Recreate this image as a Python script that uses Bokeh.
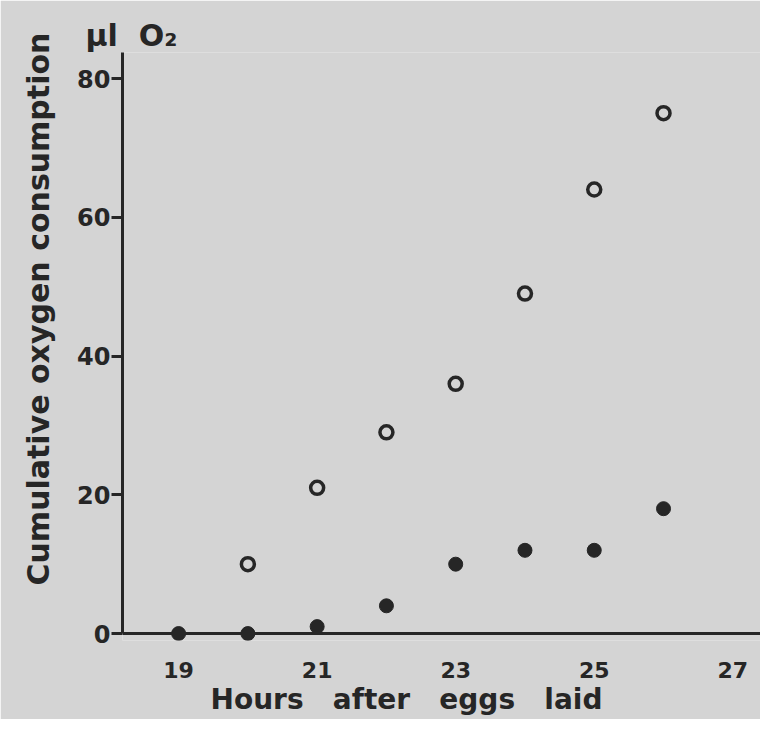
from bokeh.plotting import figure
from bokeh.models import Range1d, FixedTicker, ColumnDataSource, Title, Span
from bokeh.embed import file_html
from bokeh.resources import INLINE

# Data
hours_open = [20, 21, 22, 23, 24, 25, 26]
o2_open = [10, 21, 29, 36, 49, 64, 75]
hours_filled = [19, 20, 21, 22, 23, 24, 25, 26]
o2_filled = [0, 0, 1, 4, 10, 12, 12, 18]
x_ticks = [19, 21, 23, 25, 27]
y_ticks = [0, 20, 40, 60, 80]

INK = "#262626"
PAPER = "#d4d4d4"
FONT = "DejaVu Sans"
NB = "\u00a0"

p = figure(width=760, height=719, output_backend="svg", toolbar_location=None,
           x_range=Range1d(18.19, 27.40), y_range=Range1d(-1.0, 83.75),
           min_border_left=122, min_border_right=0, min_border_top=52,
           min_border_bottom=79)
p.background_fill_color = PAPER
p.border_fill_color = PAPER
p.outline_line_color = None
p.xgrid.visible = False
p.ygrid.visible = False

p.title.text = "\u03bcl" + NB + NB + "O\u2082"
p.title.align = "left"
p.title.offset = -37
p.title.standoff = 0
p.title.text_font = FONT
p.title.text_font_size = "30px"
p.title.text_font_style = "bold"
p.title.text_color = INK

# x axis line drawn at y = 0
p.add_layout(Span(location=0, dimension="width", line_color=INK, line_width=3))

src_o = ColumnDataSource(dict(x=hours_open, y=o2_open))
src_f = ColumnDataSource(dict(x=hours_filled, y=o2_filled))
p.scatter("x", "y", source=src_o, size=13, fill_color=None,
          line_color=INK, line_width=3.5)
p.scatter("x", "y", source=src_f, size=14, fill_color=INK,
          line_color=INK, line_width=1)

xa = p.xaxis[0]
xa.ticker = FixedTicker(ticks=x_ticks)
xa.axis_line_color = None
xa.major_tick_line_color = None
xa.minor_tick_line_color = None
xa.major_tick_out = 0
xa.major_tick_in = 0
xa.minor_tick_out = 0
xa.minor_tick_in = 0
xa.major_label_standoff = 21
xa.major_label_text_font_size = "22px"

ya = p.yaxis[0]
ya.bounds = (0, 83.75)
ya.ticker = FixedTicker(ticks=y_ticks)
ya.axis_line_color = INK
ya.axis_line_width = 3
ya.major_tick_line_color = INK
ya.major_tick_line_width = 3
ya.major_tick_out = 11
ya.major_tick_in = 0
ya.minor_tick_out = 0
ya.minor_tick_in = 0
ya.major_label_standoff = 1
ya.major_label_text_font_size = "24px"

for ax in (xa, ya):
    ax.major_label_text_font = FONT
    ax.major_label_text_font_style = "bold"
    ax.major_label_text_color = INK

gap = NB * 3
xlab = Title(text=("Hours" + gap + "after" + gap + "eggs" + gap + "laid"),
             align="left", offset=88, standoff=0, text_font=FONT,
             text_font_size="28px", text_font_style="bold", text_color=INK)
p.add_layout(xlab, "below")

ylab = Title(text=("Cumulative" + NB + "oxygen" + NB + "consumption"),
             align="left", offset=55, standoff=37, text_font=FONT,
             text_font_size="30px", text_font_style="bold", text_color=INK)
p.add_layout(ylab, "left")

open("out.html", "w").write(file_html(p, INLINE))
